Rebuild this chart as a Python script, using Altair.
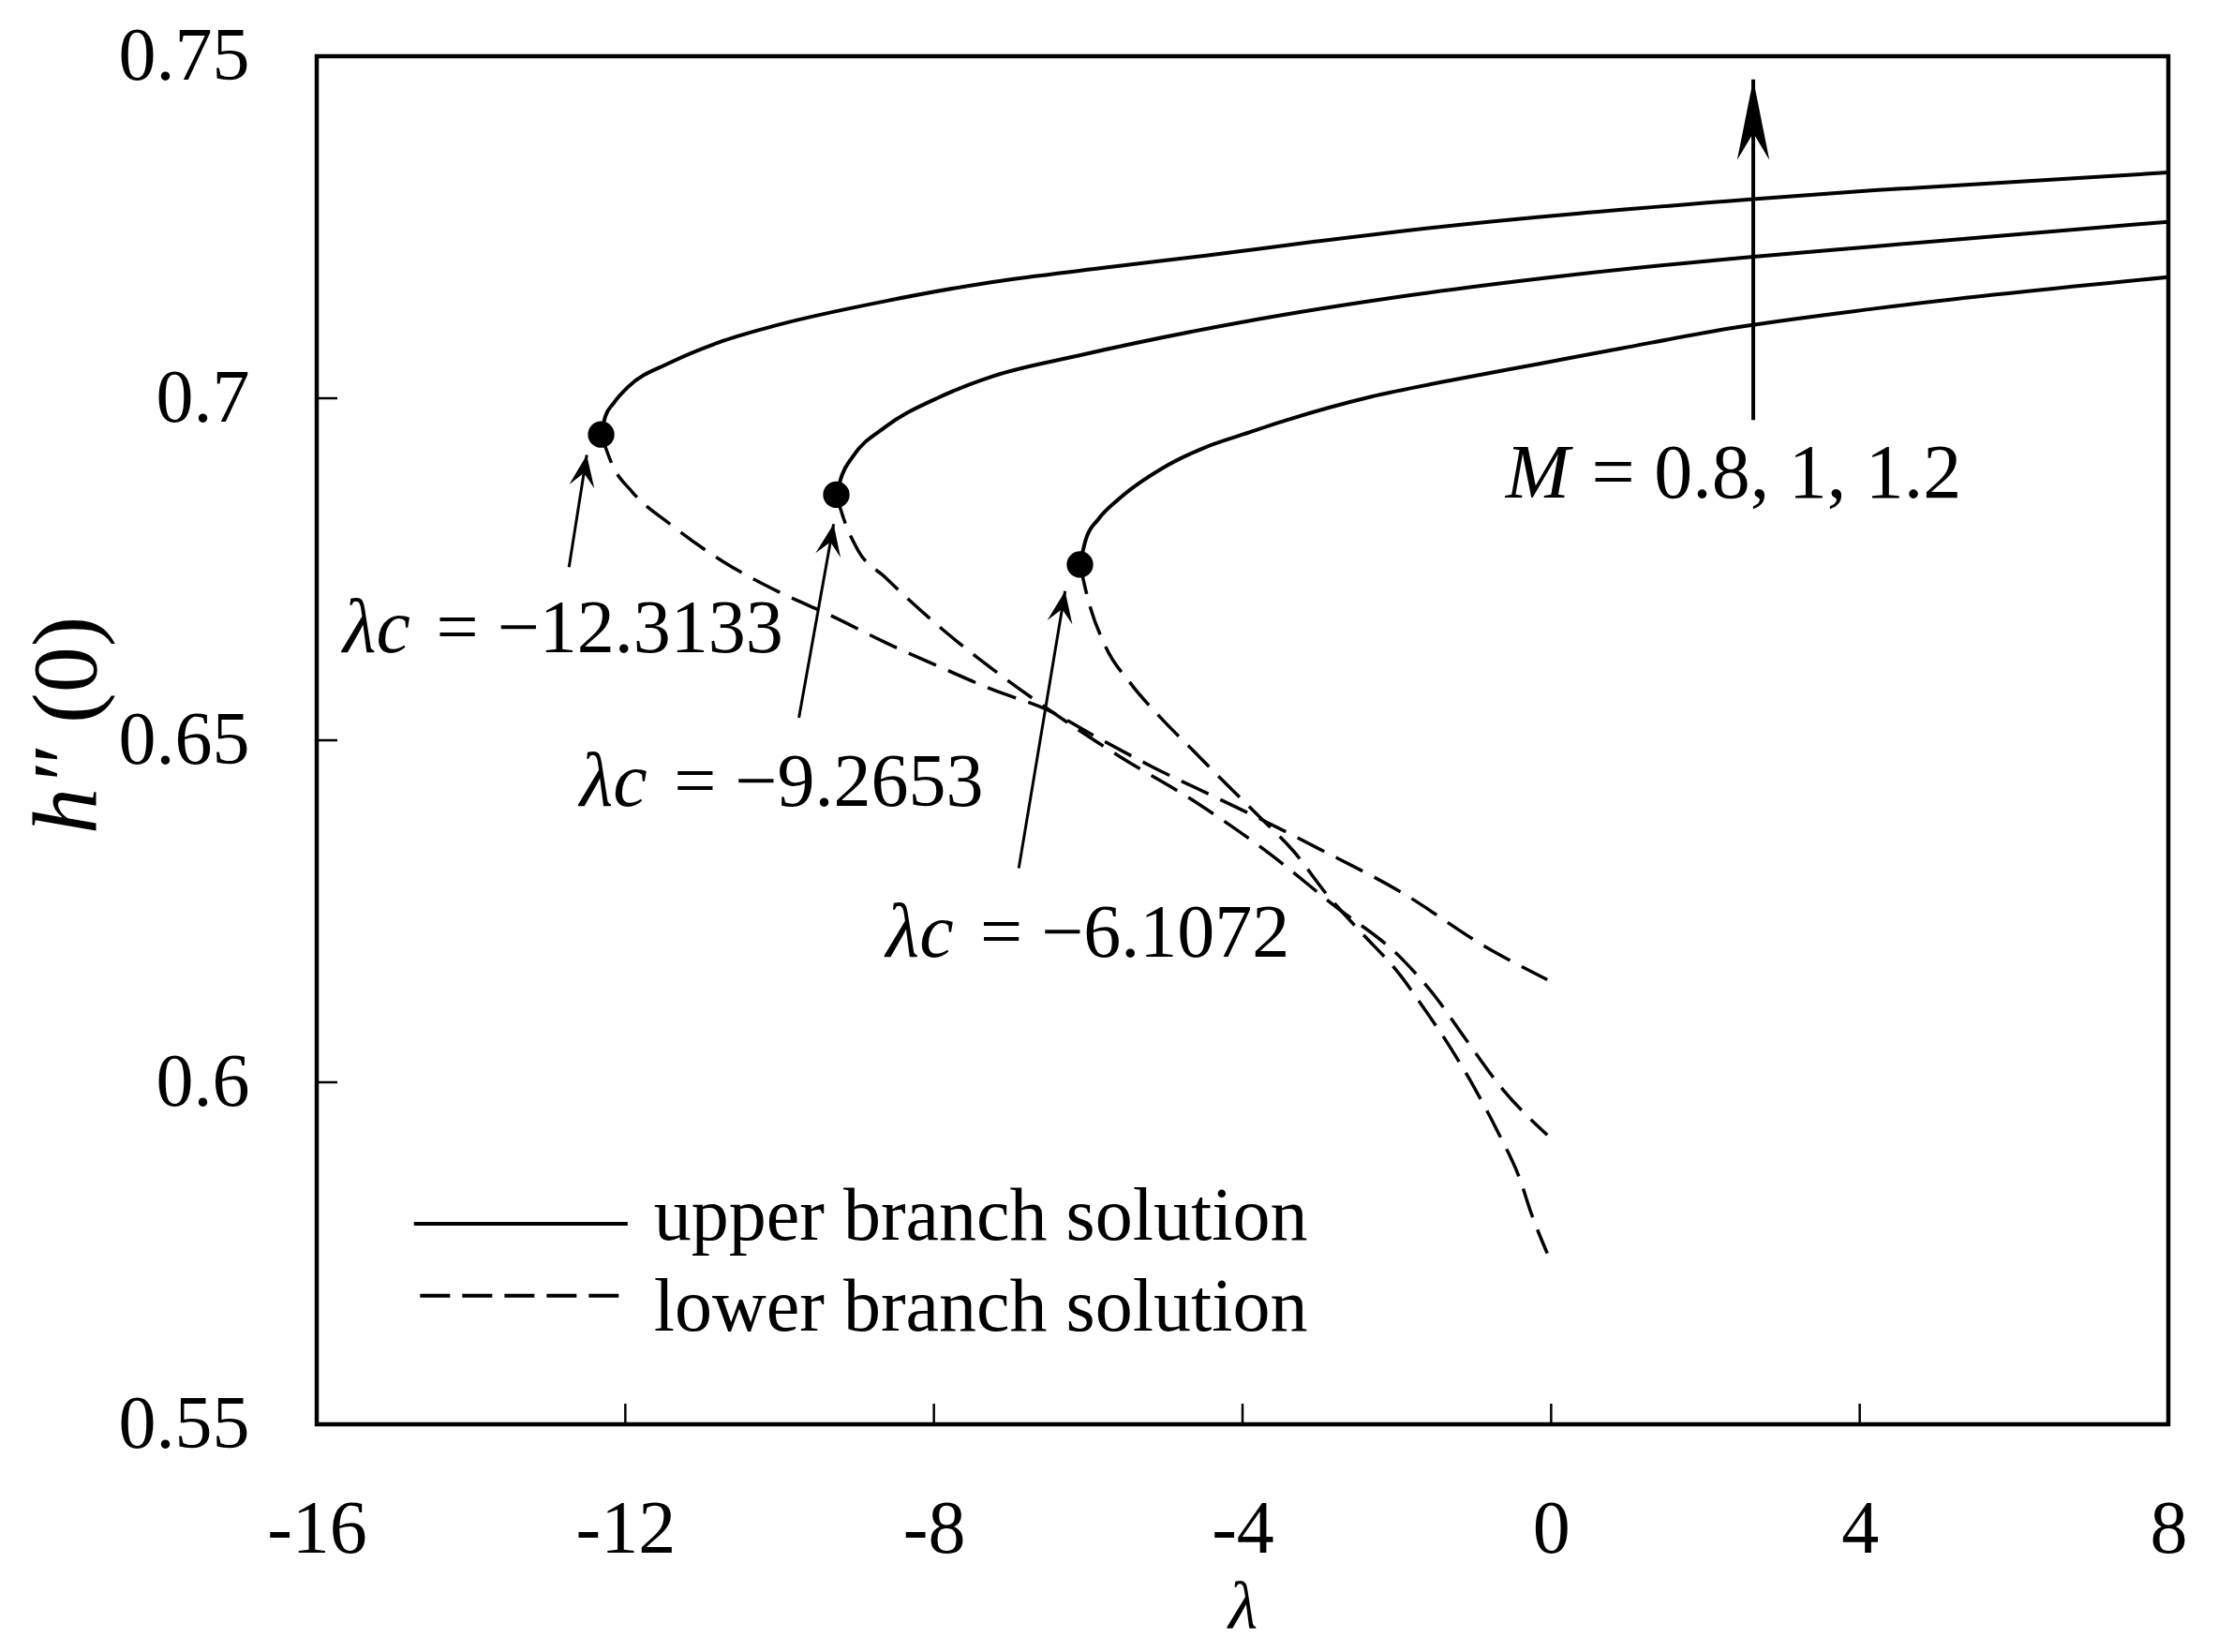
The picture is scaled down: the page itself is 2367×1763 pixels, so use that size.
import math
import altair as alt
import pandas as pd

# ---------------- layout constants ----------------
W, H = 1976, 1460
X_MIN, X_MAX = -16, 8
Y_MIN, Y_MAX = 0.55, 0.75
FONT = "Liberation Serif"

# ---------------- axis ticks ----------------
x_ticks = [-16, -12, -8, -4, 0, 4, 8]
y_ticks = [0.55, 0.6, 0.65, 0.7, 0.75]
inner_x_ticks = [-12, -8, -4, 0, 4]
inner_y_ticks = [0.6, 0.65, 0.7]

# ---------------- critical points ----------------
M_values = [1.2, 1.0, 0.8]
lambda_c = [-12.3133, -9.2653, -6.1072]
h_c = [0.6947, 0.6859, 0.6757]

# ---------------- upper branch (solid) ----------------
up_lam_12 = [-12.3133, -12.26, -12.15, -11.96, -11.42, -10.73, -10.03, -8.63, -7.24, -5.85,
             -4.45, -3.06, -1.89, 2.62, 4.19, 8.0]
up_h_12 = [0.6947, 0.6973, 0.6993, 0.7017, 0.7052, 0.7084, 0.7107, 0.7142, 0.7170, 0.7190,
           0.7209, 0.7229, 0.7245, 0.7291, 0.7304, 0.7330]

up_lam_10 = [-9.2653, -9.19, -9.05, -8.63, -7.94, -7.24, -6.14, -3.97, -1.80, -0.06, 2.62, 4.19, 8.0]
up_h_10 = [0.6859, 0.6888, 0.6915, 0.6958, 0.7001, 0.7032, 0.7062, 0.7112, 0.7151, 0.7176,
           0.7207, 0.7222, 0.7258]

up_lam_08 = [-6.1072, -6.03, -5.87, -5.60, -5.05, -4.51, -3.97, -3.43, -2.34, -1.26, -0.17,
             0.91, 2.37, 4.19, 8.0]
up_h_08 = [0.6757, 0.6794, 0.6823, 0.6853, 0.6897, 0.6927, 0.6948, 0.6968, 0.7002, 0.7027,
           0.7050, 0.7073, 0.7103, 0.7131, 0.7177]

# ---------------- lower branch (dashed) ----------------
low_lam_12 = [-12.3133, -12.17, -11.91, -11.42, -10.73, -10.03, -9.33, -8.63, -7.94, -7.24,
              -6.54, -5.85, -5.15, -4.45, -3.77, -3.02, -1.93, -0.85, -0.05]
low_h_12 = [0.6947, 0.6903, 0.6863, 0.6816, 0.6761, 0.6718, 0.6682, 0.6643, 0.6608, 0.6574,
            0.6545, 0.6502, 0.6460, 0.6422, 0.6385, 0.6342, 0.6277, 0.6198, 0.6150]

low_lam_10 = [-9.2653, -9.17, -8.98, -8.63, -7.94, -7.24, -6.54, -5.59, -4.64, -3.66, -2.82,
              -1.93, -1.50, -1.12, -0.63, -0.05]
low_h_10 = [0.6859, 0.6824, 0.6777, 0.6738, 0.6667, 0.6604, 0.6547, 0.6476, 0.6412, 0.6335,
            0.6259, 0.6180, 0.6125, 0.6065, 0.5990, 0.5923]

low_lam_08 = [-6.1072, -6.00, -5.78, -5.45, -5.07, -4.64, -4.21, -3.77, -3.34, -2.91, -2.47,
              -1.98, -1.66, -1.33, -1.01, -0.68, -0.41, -0.25, -0.05]
low_h_08 = [0.6757, 0.6705, 0.6638, 0.6583, 0.6534, 0.6485, 0.6436, 0.6387, 0.6338, 0.6275,
            0.6220, 0.6160, 0.6110, 0.6055, 0.5995, 0.5925, 0.5860, 0.5806, 0.5750]

# ---------------- annotations ----------------
arrow_tail_lam = [-12.73, -9.75, -6.90]
arrow_tail_h = [0.6753, 0.6533, 0.6313]
arrow_tip_lam = [-12.50, -9.30, -6.30]
arrow_tip_h = [0.6917, 0.6816, 0.6718]

m_arrow_lam = [2.62]
m_arrow_tail_h = [0.6968]
m_arrow_tip_h = [0.7466]

lc_label_lam = [-15.66, -12.59, -8.62]
lc_eq_lam = [-14.45, -11.37, -7.40]
lc_label_h = [0.6629, 0.6404, 0.6184]
lc_texts = ["= \u221212.3133", "= \u22129.2653", "= \u22126.1072"]

m_label_lam = [-0.59]
m_eq_lam = [0.525]
m_label_h = [0.6855]
m_text = ["= 0.8, 1, 1.2"]

legend_labels = ["upper branch solution", "lower branch solution"]
legend_line_x = [-14.74, -14.66]
legend_line_x2 = [-11.97, -12.03]
legend_line_h = [0.5793, 0.5688]
legend_text_x = [-11.63, -11.63]
legend_text_h = [0.5770, 0.5637]

# ---------------- build tables ----------------
def curve_rows(lams, hs, m, branch):
    return [{"lam": a, "h": b, "M": m, "branch": branch} for a, b in zip(lams, hs)]

upper_df = pd.DataFrame(curve_rows(up_lam_12, up_h_12, 1.2, "upper")
                        + curve_rows(up_lam_10, up_h_10, 1.0, "upper")
                        + curve_rows(up_lam_08, up_h_08, 0.8, "upper"))
lower_df = pd.DataFrame(curve_rows(low_lam_12, low_h_12, 1.2, "lower")
                        + curve_rows(low_lam_10, low_h_10, 1.0, "lower")
                        + curve_rows(low_lam_08, low_h_08, 0.8, "lower"))
crit_df = pd.DataFrame({"lam": lambda_c, "h": h_c, "M": M_values})

PX_X = W / (X_MAX - X_MIN)
PX_Y = H / (Y_MAX - Y_MIN)

def angle_of(tx, ty, hx, hy):
    dx = (hx - tx) * PX_X
    dy = (hy - ty) * PX_Y
    a = math.degrees(math.atan2(dx, dy))
    return a % 360

arrows_df = pd.DataFrame({
    "lam": arrow_tail_lam, "h": arrow_tail_h,
    "lam2": arrow_tip_lam, "h2": arrow_tip_h,
})
arrows_df["ang"] = [angle_of(a, b, c, d) for a, b, c, d in
                    zip(arrow_tail_lam, arrow_tail_h, arrow_tip_lam, arrow_tip_h)]

m_arrow_df = pd.DataFrame({"lam": m_arrow_lam, "h": m_arrow_tail_h,
                           "lam2": m_arrow_lam, "h2": m_arrow_tip_h})
m_arrow_df["ang"] = [0.0]

lc_df = pd.DataFrame({"lam": lc_label_lam, "lam_eq": lc_eq_lam, "h": lc_label_h,
                      "txt": lc_texts})
m_df = pd.DataFrame({"lam": m_label_lam, "lam_eq": m_eq_lam, "h": m_label_h, "txt": m_text})

legend_df = pd.DataFrame({"lam": legend_line_x, "lam2": legend_line_x2, "h": legend_line_h,
                          "tx": legend_text_x, "th": legend_text_h, "label": legend_labels})

xt_df = pd.DataFrame({"v": inner_x_ticks})
yt_df = pd.DataFrame({"v": inner_y_ticks})

# ---------------- scales & axes ----------------
xs = alt.Scale(domain=[X_MIN, X_MAX], nice=False, zero=False)
ys = alt.Scale(domain=[Y_MIN, Y_MAX], nice=False, zero=False)

x_axis = alt.Axis(values=x_ticks, ticks=False, domain=False, grid=False,
                  labelExpr="datum.value < 0 ? '-' + (-datum.value) : '' + datum.value",
                  labelFont=FONT, labelFontSize=80, labelColor="black", labelPadding=73,
                  labelFlush=False, labelOverlap=False,
                  title="\u03bb", titleFont=FONT, titleFontSize=72, titleFontStyle="italic",
                  titleFontWeight="normal", titleColor="black", titlePadding=8)
y_axis = alt.Axis(values=y_ticks, ticks=False, domain=False, grid=False, format=".2~f",
                  labelFont=FONT, labelFontSize=80, labelColor="black", labelPadding=72,
                  labelFlush=False, labelOverlap=False, title=None)

def X(field):
    return alt.X(field, type="quantitative", scale=xs, axis=x_axis)

def Y(field):
    return alt.Y(field, type="quantitative", scale=ys, axis=y_axis)

# ---------------- layers ----------------
upper = alt.Chart(upper_df).mark_line(color="black", strokeWidth=4, interpolate="monotone").encode(
    x=X("lam"), y=Y("h"), detail="M:N", order="lam:Q")

lower = alt.Chart(lower_df).mark_line(color="black", strokeWidth=3.5, strokeDash=[32, 14],
                                      interpolate="monotone").encode(
    x=X("lam"), y=Y("h"), detail="M:N", order="lam:Q")

dots = alt.Chart(crit_df).mark_point(shape="circle", filled=True, color="black", opacity=1,
                                     size=800).encode(x=X("lam"), y=Y("h"))

arrow_lines = alt.Chart(arrows_df).mark_rule(color="black", strokeWidth=3).encode(
    x=X("lam"), y=Y("h"), x2="lam2:Q", y2="h2:Q")
arrow_heads = alt.Chart(arrows_df).mark_point(
    shape="M0,0 L0.8,2 L0,1.15 L-0.8,2 Z", filled=True, color="black", opacity=1,
    size=1150, strokeWidth=0).encode(
    x=X("lam2"), y=Y("h2"), angle=alt.Angle("ang:Q", scale=None))

m_line = alt.Chart(m_arrow_df).mark_rule(color="black", strokeWidth=4).encode(
    x=X("lam"), y=Y("h"), x2="lam2:Q", y2="h2:Q")
m_head = alt.Chart(m_arrow_df).mark_point(
    shape="M0,0 L0.4,2 L0,1.33 L-0.4,2 Z", filled=True, color="black", opacity=1,
    size=7400, strokeWidth=0).encode(
    x=X("lam2"), y=Y("h2"), angle=alt.Angle("ang:Q", scale=None))

lc_italic = alt.Chart(lc_df).mark_text(font=FONT, fontSize=82, fontStyle="italic", align="left",
                                       baseline="alphabetic", color="black").encode(
    x=X("lam"), y=Y("h"), text=alt.value("\u03bbc"))
lc_normal = alt.Chart(lc_df).mark_text(font=FONT, fontSize=80, align="left",
                                       baseline="alphabetic", color="black").encode(
    x=X("lam_eq"), y=Y("h"), text="txt:N")

m_italic = alt.Chart(m_df).mark_text(font=FONT, fontSize=82, fontStyle="italic", align="left",
                                     baseline="alphabetic", color="black").encode(
    x=X("lam"), y=Y("h"), text=alt.value("M"))
m_normal = alt.Chart(m_df).mark_text(font=FONT, fontSize=82, align="left",
                                     baseline="alphabetic", color="black").encode(
    x=X("lam_eq"), y=Y("h"), text="txt:N")

leg_solid = alt.Chart(legend_df.iloc[[0]]).mark_rule(color="black", strokeWidth=4).encode(
    x=X("lam"), x2="lam2:Q", y=Y("h"))
leg_dash = alt.Chart(legend_df.iloc[[1]]).mark_rule(color="black", strokeWidth=4,
                                                     strokeDash=[32, 13]).encode(
    x=X("lam"), x2="lam2:Q", y=Y("h"))
leg_text = alt.Chart(legend_df).mark_text(font=FONT, fontSize=80, align="left",
                                          baseline="alphabetic", color="black").encode(
    x=X("tx"), y=Y("th"), text="label:N")

xticks = alt.Chart(xt_df).mark_rule(color="black", strokeWidth=2.5).encode(
    x=X("v"), y=alt.value(H), y2=alt.value(H - 22))
yticks = alt.Chart(yt_df).mark_rule(color="black", strokeWidth=2.5).encode(
    y=Y("v"), x=alt.value(0), x2=alt.value(22))

# y-axis title  h″(0)  (italic h, upright rest), rotated
title_df = pd.DataFrame({"a": [0]})
ytitle_h = alt.Chart(title_df).mark_text(font=FONT, fontSize=98, fontStyle="italic", angle=270,
                                         align="left", baseline="alphabetic", color="black").encode(
    x=alt.value(-236), y=alt.value(830), text=alt.value("h"))
ytitle_prime = alt.Chart(title_df).mark_text(font=FONT, fontSize=98, angle=270, align="left",
                                             baseline="alphabetic", color="black").encode(
    x=alt.value(-236), y=alt.value(774), text=alt.value("\u2033"))
ytitle_rest = alt.Chart(title_df).mark_text(font=FONT, fontSize=98, angle=270, align="left",
                                            baseline="alphabetic", color="black").encode(
    x=alt.value(-236), y=alt.value(712), text=alt.value("(0)"))

chart = alt.layer(
    upper, lower, dots, arrow_lines, arrow_heads, m_line, m_head,
    lc_italic, lc_normal, m_italic, m_normal,
    leg_solid, leg_dash, leg_text, xticks, yticks, ytitle_h, ytitle_prime, ytitle_rest,
).properties(
    width=W, height=H,
    autosize=alt.AutoSizeParams(type="none"),
    padding={"left": 330, "top": 52, "right": 45, "bottom": 235},
    background="white",
).configure(font=FONT).configure_view(stroke="black", strokeWidth=4.5)

chart.save("out.html", embed_options={"renderer": "svg", "actions": False})
